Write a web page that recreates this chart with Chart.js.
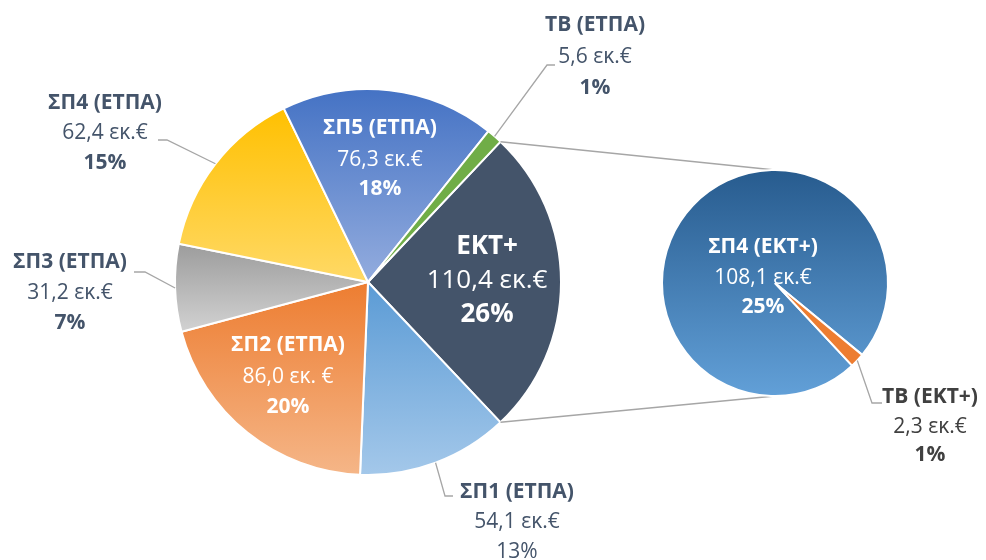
<!DOCTYPE html>
<html>
<head>
<meta charset="utf-8">
<script src="https://cdn.jsdelivr.net/npm/chart.js@4.4.1/dist/chart.umd.min.js"></script>
<style>
  body { margin: 0; background: #fff; }
  #wrap { position: relative; width: 986px; height: 560px; }
  #wrap canvas { position: absolute; left: 0; top: 0; }
</style>
</head>
<body>
<div id="wrap">
  <canvas id="mainPie" width="986" height="560"></canvas>
  <canvas id="subPie" width="986" height="560"></canvas>
</div>
<script>
  // dados
  const mainLabels = ['ΕΚΤ+', 'ΣΠ1 (ΕΤΠΑ)', 'ΣΠ2 (ΕΤΠΑ)', 'ΣΠ3 (ΕΤΠΑ)', 'ΣΠ4 (ΕΤΠΑ)', 'ΣΠ5 (ΕΤΠΑ)', 'ΤΒ (ΕΤΠΑ)'];
  const mainValues = [110.4, 54.1, 86.0, 31.2, 62.4, 76.3, 5.6];
  const mainUnits = ['εκ.€', 'εκ.€', 'εκ. €', 'εκ.€', 'εκ.€', 'εκ.€', 'εκ.€'];
  const subLabels = ['ΣΠ4 (ΕΚΤ+)', 'ΤΒ (ΕΚΤ+)'];
  const subValues = [108.1, 2.3];
  const subUnits = ['εκ.€', 'εκ.€'];

  const grandTotal = mainValues.reduce((a, b) => a + b, 0);

  // cores [topo, base]
  const mainColors = [
    ['#44546A', '#44546A'],
    ['#5B9BD5', '#A4C8EA'],
    ['#ED7D31', '#F5B688'],
    ['#9C9C9C', '#D2D2D2'],
    ['#FFC000', '#FFD966'],
    ['#4472C4', '#93ACDE'],
    ['#70AD47', '#70AD47']
  ];
  const subColors = [
    ['#275B8E', '#62A0D8'],
    ['#ED7D31', '#ED7D31']
  ];

  const mainRotation = 90 - (mainValues[0] / grandTotal * 360) / 2;
  const subRotation = 137;

  Chart.defaults.font.family = "'Open Sans', sans-serif";
  Chart.defaults.animation = false;

  function sliceFill(c, colors, rotation) {
    const chart = c.chart;
    const area = chart.chartArea;
    const pair = colors[c.dataIndex];
    if (!area || pair[0] === pair[1]) return pair[0];
    const data = c.dataset.data;
    const total = data.reduce((a, b) => a + b, 0);
    let start = rotation;
    for (let i = 0; i < c.dataIndex; i++) start += data[i] / total * 360;
    const end = start + data[c.dataIndex] / total * 360;
    const cx = (area.left + area.right) / 2;
    const cy = (area.top + area.bottom) / 2;
    const r = Math.min(area.right - area.left, area.bottom - area.top) / 2;
    const ys = [cy];
    [start, end].forEach(a => ys.push(cy - r * Math.cos(a * Math.PI / 180)));
    for (let k = -720; k <= 720; k += 180) {
      if (k > start && k < end) ys.push(cy - r * Math.cos(k * Math.PI / 180));
    }
    const y0 = Math.min(...ys), y1 = Math.max(...ys);
    const g = chart.ctx.createLinearGradient(0, y0, 0, y1 + 0.01);
    g.addColorStop(0, pair[0]);
    g.addColorStop(1, pair[1]);
    return g;
  }

  const fmt = (v, u) => v.toFixed(1).replace('.', ',') + ' ' + u;
  const pct = v => Math.round(v / grandTotal * 100) + '%';

  // posicoes dos rotulos
  const slate = '#44546A';
  const mainLabelPos = [
    { x: 487, y: [247, 281, 315], color: '#fff', size: 26, pctBold: true },
    { x: 517, y: [492, 522, 552], color: slate, size: 21, pctBold: false, leader: [[445, 496], [453, 496]] },
    { x: 288, y: [345, 377, 407], color: '#fff', size: 21, pctBold: true },
    { x: 70, y: [262, 293, 323], color: slate, size: 21, pctBold: true, leader: [[145, 272], [134, 272]] },
    { x: 105, y: [103, 133, 163], color: slate, size: 21, pctBold: true, leader: [[167, 140], [158, 140]] },
    { x: 380, y: [128, 160, 189], color: '#fff', size: 21, pctBold: true },
    { x: 595, y: [25, 57, 88], color: slate, size: 21, pctBold: true, leader: [[547, 65], [555, 65]] }
  ];
  const subLabelPos = [
    { x: 763, y: [247, 278, 307], color: '#fff', size: 21, pctBold: true },
    { x: 930, y: [397, 427, 455], color: '#404040', size: 21, pctBold: true, leader: [[872, 403], [882, 403]] }
  ];

  function drawLabels(ctx, meta, labels, values, units, pos) {
    meta.data.forEach((arc, i) => {
      const p = pos[i];
      if (p.leader) {
        const mid = (arc.startAngle + arc.endAngle) / 2;
        ctx.beginPath();
        ctx.moveTo(arc.x + arc.outerRadius * Math.cos(mid), arc.y + arc.outerRadius * Math.sin(mid));
        p.leader.forEach(pt => ctx.lineTo(pt[0], pt[1]));
        ctx.strokeStyle = '#A6A6A6';
        ctx.lineWidth = 1.3;
        ctx.stroke();
      }
      ctx.fillStyle = p.color;
      ctx.textAlign = 'center';
      ctx.textBaseline = 'middle';
      ctx.font = 'bold ' + p.size + "px 'Open Sans'";
      ctx.fillText(labels[i], p.x, p.y[0]);
      ctx.font = p.size + "px 'Open Sans'";
      ctx.fillText(fmt(values[i], units[i]), p.x, p.y[1]);
      ctx.font = (p.pctBold ? 'bold ' : '') + p.size + "px 'Open Sans'";
      ctx.fillText(pct(values[i]), p.x, p.y[2]);
    });
  }

  const mainChart = new Chart(document.getElementById('mainPie'), {
    type: 'pie',
    data: {
      labels: mainLabels,
      datasets: [{
        data: mainValues,
        backgroundColor: c => sliceFill(c, mainColors, mainRotation),
        borderColor: '#fff',
        borderWidth: 2
      }]
    },
    options: {
      responsive: false,
      devicePixelRatio: 1,
      rotation: mainRotation,
      events: [],
      layout: { padding: { left: 174, right: 424, top: 88, bottom: 84 } },
      plugins: { legend: { display: false }, tooltip: { enabled: false } }
    }
  });

  const overlay = {
    id: 'overlay',
    beforeDatasetsDraw(chart) {
      const ctx = chart.ctx;
      const big = mainChart.getDatasetMeta(0).data[0];
      const small = chart.getDatasetMeta(0).data[0];
      ctx.save();
      ctx.strokeStyle = '#A6A6A6';
      ctx.lineWidth = 1.5;
      ctx.beginPath();
      ctx.moveTo(big.x + big.outerRadius * Math.cos(big.startAngle), big.y + big.outerRadius * Math.sin(big.startAngle));
      ctx.lineTo(small.x, small.y - small.outerRadius);
      ctx.moveTo(big.x + big.outerRadius * Math.cos(big.endAngle), big.y + big.outerRadius * Math.sin(big.endAngle));
      ctx.lineTo(small.x, small.y + small.outerRadius);
      ctx.stroke();
      ctx.restore();
    },
    afterDatasetsDraw(chart) {
      const ctx = chart.ctx;
      ctx.save();
      drawLabels(ctx, mainChart.getDatasetMeta(0), mainLabels, mainValues, mainUnits, mainLabelPos);
      drawLabels(ctx, chart.getDatasetMeta(0), subLabels, subValues, subUnits, subLabelPos);
      ctx.restore();
    }
  };

  new Chart(document.getElementById('subPie'), {
    type: 'pie',
    data: {
      labels: subLabels,
      datasets: [{
        data: subValues,
        backgroundColor: c => sliceFill(c, subColors, subRotation),
        borderColor: '#fff',
        borderWidth: 2
      }]
    },
    options: {
      responsive: false,
      devicePixelRatio: 1,
      rotation: subRotation,
      events: [],
      layout: { padding: { left: 661, right: 97, top: 169, bottom: 163 } },
      plugins: { legend: { display: false }, tooltip: { enabled: false } }
    },
    plugins: [overlay]
  });
</script>
</body>
</html>
